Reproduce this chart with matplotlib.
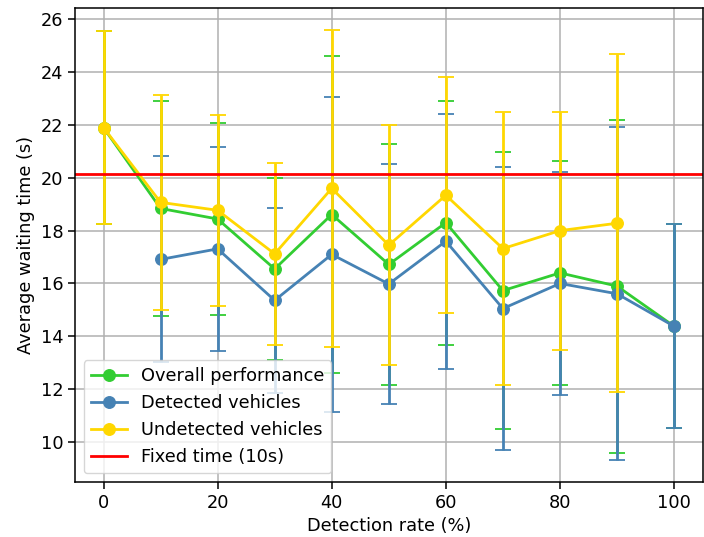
import numpy as np
import matplotlib
matplotlib.use("Agg")
import matplotlib.pyplot as plt

nan = np.nan
detection_rate = [0, 10, 20, 30, 40, 50, 60, 70, 80, 90, 100]
overall = [21.9, 18.84, 18.44, 16.55, 18.61, 16.72, 18.3, 15.73, 16.4, 15.9, 14.38]
overall_err = [3.65, 4.07, 3.64, 3.45, 5.99, 4.55, 4.62, 5.25, 4.23, 6.3, 3.86]
detected = [nan, 16.91, 17.31, 15.36, 17.1, 15.98, 17.6, 15.05, 16.0, 15.61, 14.38]
detected_err = [nan, 3.9, 3.86, 3.5, 5.95, 4.55, 4.83, 5.37, 4.23, 6.31, 3.86]
undetected = [21.9, 19.07, 18.77, 17.12, 19.6, 17.45, 19.34, 17.32, 18.0, 18.28, nan]
undetected_err = [3.65, 4.07, 3.62, 3.45, 6.01, 4.55, 4.47, 5.17, 4.5, 6.39, nan]
fixed_time = 20.15

plt.rcParams['font.size'] = 12.8

fig = plt.figure(figsize=(7.04, 5.37), dpi=100)
ax = fig.add_subplot(111)
fig.subplots_adjust(left=0.1065, right=0.998, top=0.985, bottom=0.1024)

series = [
    (overall, overall_err, 'limegreen', 'Overall performance'),
    (detected, detected_err, 'steelblue', 'Detected vehicles'),
    (undetected, undetected_err, 'gold', 'Undetected vehicles'),
]
for vals, errs, col, lab in series:
    ax.errorbar(detection_rate, vals, yerr=errs, fmt='none', ecolor=col,
                elinewidth=2.0, capsize=5.5, capthick=1.3)
    ax.plot(detection_rate, vals, '-o', color=col, lw=2.0, ms=8.3, label=lab)

ax.axhline(fixed_time, color='red', lw=2, label='Fixed time (10s)')

ax.grid(True, color='#b0b0b0', lw=1.1)
ax.set_axisbelow(True)
ax.set_xlabel('Detection rate (%)')
ax.set_ylabel('Average waiting time (s)')
ax.set_yticks([10, 12, 14, 16, 18, 20, 22, 24, 26])
ax.tick_params(length=4.8, width=1.1)
for s in ax.spines.values():
    s.set_linewidth(1.1)
ax.legend(loc='lower left', fontsize=12.8)

fig.savefig('out.png', dpi=100)
